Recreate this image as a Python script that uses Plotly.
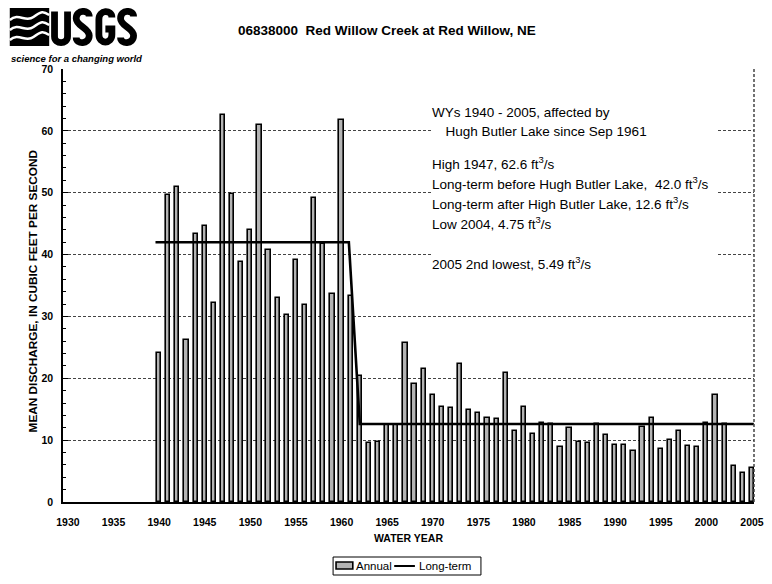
import plotly.graph_objects as go

years = list(range(1940, 2006))
annual = [24.1, 49.6, 50.9, 26.2, 43.3, 44.7, 32.1, 62.6, 49.8, 38.8,
          43.9, 60.9, 40.7, 32.9, 30.2, 39.1, 31.8, 49.1, 41.7, 33.7,
          61.8, 33.3, 20.4, 9.6, 9.7, 12.4, 12.5, 25.7, 19.1, 21.5,
          17.3, 15.3, 15.2, 22.3, 14.9, 14.4, 13.5, 13.4, 20.9, 11.4,
          15.4, 11.0, 12.8, 12.6, 8.9, 12.0, 9.7, 9.6, 12.6, 10.9,
          9.2, 9.2, 8.2, 12.1, 13.6, 8.6, 10.1, 11.5, 9.1, 8.9,
          12.7, 17.3, 12.6, 5.9, 4.75, 5.49]
longterm_years = [1939.6, 1960.8, 1962, 2005.2]
longterm_values = [42.0, 42.0, 12.6, 12.6]
x_ticks = list(range(1930, 2010, 5))
y_ticks = list(range(0, 80, 10))
legend_labels = ["Annual", "Long-term"]

title_text = "06838000  Red Willow Creek at Red Willow, NE"
note_lines = [
    "WYs 1940 - 2005, affected by",
    "  Hugh Butler Lake since Sep 1961",
    "High 1947, 62.6 ft<sup>3</sup>/s",
    "Long-term before Hugh Butler Lake,  42.0 ft<sup>3</sup>/s",
    "Long-term after High Butler Lake, 12.6 ft<sup>3</sup>/s",
    "Low 2004, 4.75 ft<sup>3</sup>/s",
    "2005 2nd lowest, 5.49 ft<sup>3</sup>/s",
]
note_rows_px = [112, 132, 163, 183, 203, 223, 263]
note_x_px = [435, 441, 435, 435, 435, 435, 435]

# the page body has an 8px margin: figure pixel = page pixel - 8
OFF = 8
W, H = 772 - 2 * OFF, 584 - 2 * OFF
L, R, T, B = 63 - OFF, 764 - OFF, 69 - OFF, 502 - OFF
PW, PH = R - L, B - T


def px(x):
    return (x - OFF - L) / PW


def py(y):
    return (B - (y - OFF)) / PH


AR = "Liberation Sans, Arial, sans-serif"
BAR_FILL = "#b4b4b4"

fig = go.Figure()
fig.add_trace(go.Bar(
    x=years, y=annual, name=legend_labels[0], width=0.46,
    marker=dict(color=BAR_FILL, line=dict(color="black", width=1.6)),
))
fig.add_trace(go.Scatter(
    x=longterm_years, y=longterm_values, name=legend_labels[1], mode="lines",
    line=dict(color="black", width=2.6),
))

annotations = []
annotations.append(dict(
    xref="paper", yref="paper", x=px(437), y=py(98), xanchor="left", yanchor="top",
    text=" ", showarrow=False, width=282, height=180, bgcolor="white",
))
for t, yy, xx in zip(note_lines, note_rows_px, note_x_px):
    annotations.append(dict(
        xref="paper", yref="paper", x=px(xx), y=py(yy), xanchor="left", yanchor="middle",
        text=t, showarrow=False, font=dict(family=AR, size=13.5, color="black"),
    ))
annotations.append(dict(
    xref="paper", yref="paper", x=px(238), y=py(30), xanchor="left", yanchor="middle",
    text="<b>" + title_text + "</b>", showarrow=False,
    font=dict(family=AR, size=13.5, color="black"),
))
annotations.append(dict(
    xref="paper", yref="paper", x=px(413), y=py(538), xanchor="center", yanchor="middle",
    text="<b>WATER YEAR</b>", showarrow=False, font=dict(family=AR, size=10.5, color="black"),
))
annotations.append(dict(
    xref="paper", yref="paper", x=px(33), y=py(291), xanchor="center", yanchor="middle",
    text="<b>MEAN DISCHARGE, IN CUBIC FEET PER SECOND</b>", textangle=-90, showarrow=False,
    font=dict(family=AR, size=11.8, color="black"),
))
annotations.append(dict(
    xref="paper", yref="paper", x=px(8), y=py(58), xanchor="left", yanchor="middle",
    text="<b><i>science for a changing world</i></b>", showarrow=False,
    font=dict(family="Liberation Sans Narrow, Arial Narrow, sans-serif", size=9.5, color="black"),
))
# legend texts
annotations.append(dict(
    xref="paper", yref="paper", x=px(358), y=py(566), xanchor="left", yanchor="middle",
    text=legend_labels[0], showarrow=False, font=dict(family=AR, size=11.5, color="black"),
))
annotations.append(dict(
    xref="paper", yref="paper", x=px(422), y=py(566), xanchor="left", yanchor="middle",
    text=legend_labels[1], showarrow=False, font=dict(family=AR, size=11.5, color="black"),
))

shapes = []
# legend box and symbols
shapes.append(dict(type="rect", xref="paper", yref="paper", x0=px(337), x1=px(487),
                   y0=py(575), y1=py(557), line=dict(color="black", width=1), fillcolor="white"))
shapes.append(dict(type="rect", xref="paper", yref="paper", x0=px(340), x1=px(357),
                   y0=py(569), y1=py(562), line=dict(color="black", width=1.6),
                   fillcolor=BAR_FILL))
shapes.append(dict(type="line", xref="paper", yref="paper", x0=px(399), x1=px(420),
                   y0=py(566), y1=py(566), line=dict(color="black", width=2)))
# bottom scan line
shapes.append(dict(type="line", xref="paper", yref="paper", x0=px(8), x1=px(772),
                   y0=py(580), y1=py(580), line=dict(color="#333", width=2)))
# right dashed border
shapes.append(dict(type="line", xref="paper", yref="paper", x0=1, x1=1, y0=0, y1=1,
                   line=dict(color="#444", width=1.5, dash="3px,2px")))
# logo wave block
shapes.append(dict(type="rect", xref="paper", yref="paper", x0=px(9), x1=px(49),
                   y0=py(46), y1=py(7), fillcolor="black", line=dict(width=0)))
for y0 in [17, 27, 37]:
    path = "M {} {} C {} {}, {} {}, {} {} S {} {}, {} {}".format(
        px(9), py(y0 + 3), px(18), py(y0 - 5), px(25), py(y0 + 6), px(33), py(y0),
        px(43), py(y0 - 6), px(49), py(y0 - 2))
    shapes.append(dict(type="path", xref="paper", yref="paper", path=path,
                       line=dict(color="white", width=2.5)))


def P(x, y):
    return "{:.5f},{:.5f}".format(px(x), py(y))


def letter_paths(x0, top, bot, w, sw):
    l, r = x0 + sw / 2, x0 + w - sw / 2
    t, b = top + sw / 2, bot - sw / 2
    m = (t + b) / 2
    mid = (l + r) / 2
    U = "M {} L {} C {} {} {} L {}".format(P(l, t), P(l, b - 6), P(l, b + 2), P(r, b + 2),
                                          P(r, b - 6), P(r, t))
    S = "M {} C {} {} {} C {} {} {} C {} {} {}".format(
        P(r, t + 5), P(r, t - 2), P(l, t - 2), P(l, t + 7),
        P(l, m - 1), P(r, m + 1), P(r, b - 7),
        P(r, b + 2), P(l, b + 2), P(l, b - 5))
    G = "M {} C {} {} {} L {} C {} {} {} L {} L {}".format(
        P(r, t + 6), P(r, t - 2), P(l, t - 2), P(l, t + 8), P(l, b - 8),
        P(l, b + 2), P(r, b + 2), P(r, b - 8), P(r, m + 2), P(mid, m + 2))
    return U, S, G


lx = [51, 73, 96, 118]
for i, x0 in enumerate(lx):
    U, S, G = letter_paths(x0, 8, 46, 20, 6.8)
    path = [U, S, G, S][i]
    shapes.append(dict(type="path", xref="paper", yref="paper", path=path,
                       line=dict(color="black", width=6.8)))

fig.update_layout(
    width=W, height=H,
    margin=dict(l=L, r=W - R, t=T, b=H - B, pad=0),
    paper_bgcolor="white", plot_bgcolor="white",
    font=dict(family=AR, color="black"),
    showlegend=False,
    annotations=annotations,
    shapes=shapes,
    bargap=0,
)
fig.update_xaxes(range=[1929.46, 2005.22], tickvals=x_ticks, showgrid=False,
                 showline=True, linecolor="black", linewidth=1.5, ticks="",
                 tickfont=dict(family=AR, size=10.5, weight="bold"), ticklabelstandoff=10,
                 ticklabeloverflow="allow", zeroline=False)
fig.update_yaxes(range=[0, 70], tickvals=y_ticks, showgrid=True, gridcolor="#444",
                 gridwidth=1, griddash="3px,2px", showline=True, linecolor="black",
                 linewidth=1.5, ticks="inside", ticklen=5, tickcolor="black",
                 minor=dict(dtick=2, ticks="inside", ticklen=3, tickcolor="black", showgrid=False),
                 tickfont=dict(family=AR, size=10.5, weight="bold"), ticklabelstandoff=6,
                 zeroline=False)

fig.write_html("out.html")
